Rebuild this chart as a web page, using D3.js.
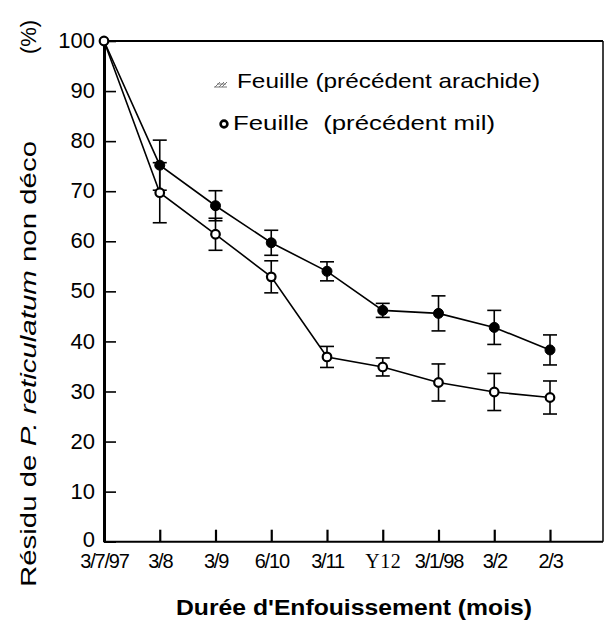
<!DOCTYPE html>
<html>
<head>
<meta charset="utf-8">
<script src="https://cdn.jsdelivr.net/npm/d3@7"></script>
<style>
  html, body { margin: 0; padding: 0; background: #fff; }
  svg { display: block; font-family: "Liberation Sans", Arial, sans-serif; }
</style>
</head>
<body>
<svg id="chart" width="605" height="627"></svg>
<script>
// Burial dates (sampling times)
const dates = ["3/7/97", "3/8", "3/9", "6/10", "3/11", "Y12", "3/1/98", "3/2", "2/3"];

// Remaining leaf residue (%), previous crop groundnut
const arachide = [100, 75.2, 67.1, 59.7, 54.0, 46.2, 45.6, 42.8, 38.3];
const arachideErr = [0, 5.0, 3.0, 2.5, 1.9, 1.4, 3.5, 3.4, 3.0];

// Remaining leaf residue (%), previous crop millet
const mil = [100, 69.7, 61.4, 52.9, 36.9, 34.9, 31.8, 29.9, 28.8];
const milErr = [0, 6.0, 3.2, 3.2, 2.1, 1.8, 3.7, 3.7, 3.3];

const yTicks = [0, 10, 20, 30, 40, 50, 60, 70, 80, 90, 100];

const svg = d3.select("#chart");

const x = d3.scaleLinear().domain([0, 9]).range([104, 605.75]);
const y = d3.scaleLinear().domain([0, 100]).range([541.7, 41]);

// frame: top and right borders
svg.append("line")
  .attr("x1", x(0)).attr("x2", 603)
  .attr("y1", y(100)).attr("y2", y(100))
  .attr("stroke", "#000").attr("stroke-width", 2);
svg.append("line")
  .attr("x1", 603).attr("x2", 603)
  .attr("y1", y(100)).attr("y2", y(0))
  .attr("stroke", "#000").attr("stroke-width", 1.5);

// y axis, inward ticks
const yAxis = svg.append("g")
  .attr("transform", `translate(${x(0)},0)`)
  .call(d3.axisLeft(y).tickValues(yTicks).tickSizeInner(-12).tickSizeOuter(0).tickPadding(9));
yAxis.select(".domain").attr("stroke-width", 3);
yAxis.selectAll(".tick line").attr("stroke-width", 1.6);
yAxis.selectAll(".tick text")
  .attr("font-size", 22).attr("fill", "#000")
  .attr("dy", d => d === 0 ? "0.2em" : "0.3em")
  .attr("font-family", "'Liberation Sans', Arial, sans-serif");

// x axis, inward ticks
const xAxis = svg.append("g")
  .attr("transform", `translate(0,${y(0)})`)
  .call(d3.axisBottom(x)
    .tickValues(d3.range(dates.length))
    .tickFormat(i => dates[i])
    .tickSizeInner(-12).tickSizeOuter(0).tickPadding(12));
xAxis.select(".domain").attr("d", `M${x(0)},0H603`).attr("stroke-width", 2);
xAxis.selectAll(".tick line").attr("stroke-width", 2.2)
  .attr("opacity", (d, i) => i === 0 ? 0 : 1);
xAxis.selectAll(".tick text")
  .attr("font-size", 20).attr("fill", "#000")
  .attr("font-family", d => dates[d] === "Y12" ? "'Liberation Serif', 'Times New Roman', serif" : "'Liberation Sans Narrow', 'Liberation Sans', Arial, sans-serif")
  .attr("letter-spacing", d => dates[d] === "Y12" ? 0.5 : -1.2);

// series
const series = [
  { name: "arachide", values: arachide, err: arachideErr, filled: true },
  { name: "mil", values: mil, err: milErr, filled: false }
];

const line = d3.line().x((d, i) => x(i)).y(d => y(d));

series.forEach(s => {
  const g = svg.append("g").attr("class", "series-" + s.name);
  g.append("path")
    .datum(s.values)
    .attr("d", line)
    .attr("fill", "none")
    .attr("stroke", "#000")
    .attr("stroke-width", 1.6);

  const bars = g.selectAll("g.err")
    .data(s.values.map((v, i) => ({ i, v, e: s.err[i] })).filter(d => d.e > 0))
    .join("g").attr("class", "err");
  bars.append("line")
    .attr("x1", d => x(d.i)).attr("x2", d => x(d.i))
    .attr("y1", d => y(d.v + d.e)).attr("y2", d => y(d.v - d.e))
    .attr("stroke", "#000").attr("stroke-width", 1.6);
  [1, -1].forEach(sign => {
    bars.append("line")
      .attr("x1", d => x(d.i) - 7).attr("x2", d => x(d.i) + 7)
      .attr("y1", d => y(d.v + sign * d.e)).attr("y2", d => y(d.v + sign * d.e))
      .attr("stroke", "#000").attr("stroke-width", 1.6);
  });

  g.selectAll("circle")
    .data(s.values.map((v, i) => ({ i, v })).filter(d => d.i > 0))
    .join("circle")
    .attr("cx", d => x(d.i)).attr("cy", d => y(d.v))
    .attr("r", s.filled ? 5 : 4.3)
    .attr("fill", s.filled ? "#000" : "#fff")
    .attr("stroke", "#000")
    .attr("stroke-width", s.filled ? 1 : 2.2);
});

// shared starting point (100 %)
svg.append("circle")
  .attr("cx", x(0)).attr("cy", y(arachide[0]))
  .attr("r", 4.3)
  .attr("fill", "#fff").attr("stroke", "#000").attr("stroke-width", 2.2);

// legend
const legend = svg.append("g");
const sym = legend.append("g").attr("transform", "translate(214,87)")
  .attr("stroke", "#777").attr("stroke-width", 1).attr("fill", "none");
sym.append("path").attr("d", "M0,0H13 M1,0L6,-5 M5,0L10,-5 M8,0L13,-5 M3,-3H12");
legend.append("text")
  .attr("x", 237).attr("y", 88)
  .attr("font-size", 21)
  .attr("textLength", 303).attr("lengthAdjust", "spacingAndGlyphs")
  .text("Feuille (précédent arachide)");

legend.append("circle")
  .attr("cx", 224).attr("cy", 124).attr("r", 3.4)
  .attr("fill", "#fff").attr("stroke", "#000").attr("stroke-width", 2.6);
legend.append("text")
  .attr("x", 233).attr("y", 130)
  .attr("font-size", 21)
  .attr("xml:space", "preserve")
  .attr("textLength", 262).attr("lengthAdjust", "spacingAndGlyphs")
  .text("Feuille  (précédent mil)");

// y axis title
const yTitle = svg.append("text")
  .attr("transform", "translate(36,364) rotate(-90)")
  .attr("text-anchor", "middle")
  .attr("font-size", 22)
  .attr("textLength", 446).attr("lengthAdjust", "spacingAndGlyphs");
yTitle.append("tspan").text("Résidu de ");
yTitle.append("tspan").attr("font-style", "italic").text("P. reticulatum");
yTitle.append("tspan").text(" non déco");

svg.append("text")
  .attr("transform", "translate(36,37) rotate(-90)")
  .attr("text-anchor", "middle")
  .attr("font-size", 22)
  .text("(%)");

// x axis title
svg.append("text")
  .attr("x", 354).attr("y", 615)
  .attr("text-anchor", "middle")
  .attr("font-size", 22)
  .attr("font-weight", "bold")
  .attr("textLength", 356).attr("lengthAdjust", "spacingAndGlyphs")
  .text("Durée d'Enfouissement (mois)");
</script>
</body>
</html>
